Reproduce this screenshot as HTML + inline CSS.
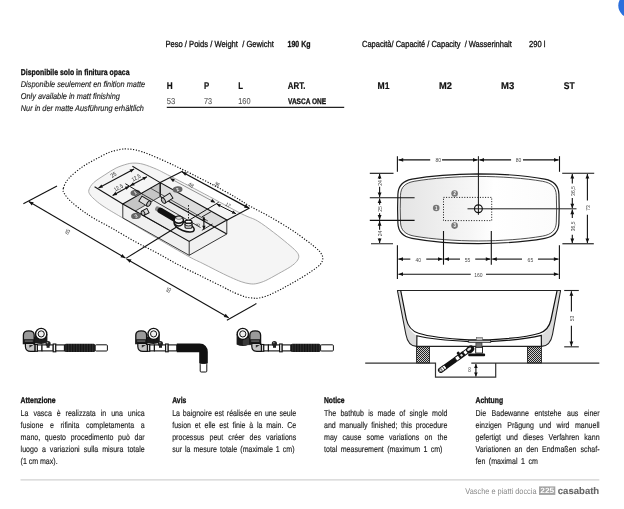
<!DOCTYPE html>
<html><head><meta charset="utf-8"><title>Vasca One</title>
<style>
html,body{margin:0;padding:0;background:#fff;}
body{width:624px;height:509px;position:relative;overflow:hidden;font-family:'Liberation Sans',sans-serif;}
#pg{position:absolute;left:0;top:0;width:624px;height:509px;will-change:transform;}
svg{position:absolute;left:0;top:0;}
</style></head><body>
<div id="pg">
<svg width="624" height="509" viewBox="0 0 624 509" font-family="'Liberation Sans',sans-serif">
<defs>
<linearGradient id="tubg" x1="0" x2="1" y1="0" y2="0"><stop offset="0" stop-color="#e4e4e4"/><stop offset="0.45" stop-color="#f6f6f6"/><stop offset="0.6" stop-color="#ffffff"/><stop offset="1" stop-color="#fbfbfb"/></linearGradient>
<pattern id="hatch" width="2" height="2" patternUnits="userSpaceOnUse"><rect width="2" height="2" fill="#cdcdcd"/><rect width="1" height="1" fill="#222"/><rect x="1" y="1" width="1" height="1" fill="#222"/></pattern>
<pattern id="corr" width="1.6" height="8" patternUnits="userSpaceOnUse"><rect width="1.6" height="8" fill="#111"/><rect x="1.1" width="0.5" height="8" fill="#444"/></pattern>
</defs>
<circle cx="630.5" cy="5.6" r="12.2" fill="#2b6fdc"/>
<line x1="166.80" y1="107.40" x2="344.20" y2="107.40" stroke="#222" stroke-width="1.3" />
<line x1="20.50" y1="479.80" x2="599.30" y2="479.80" stroke="#d2d2d2" stroke-width="1.2" />
<rect x="539" y="486.4" width="16.3" height="8.5" fill="#a3a3a3"/>
<path d="M478.40,173.80 C455.40,173.90 430.40,175.70 412.00,179.10 C402.80,180.90 398.20,185.20 397.90,194.20 L397.60,208.70 L397.90,223.20 C398.20,232.20 402.80,236.50 412.00,238.30 C430.40,241.70 455.40,243.50 478.40,243.60 C501.40,243.50 526.40,241.70 544.80,238.30 C554.00,236.50 558.60,232.20 558.90,223.20 L559.20,208.70 L558.90,194.20 C558.60,185.20 554.00,180.90 544.80,179.10 C526.40,175.70 501.40,173.90 478.40,173.80 Z" fill="#fff" stroke="#1a1a1a" stroke-width="1.2"/>
<path d="M478.40,176.42 C456.14,176.51 431.94,178.17 414.12,181.32 C405.22,182.98 400.77,186.96 400.48,195.29 L400.19,208.70 L400.48,222.11 C400.77,230.44 405.22,234.41 414.12,236.08 C431.94,239.22 456.14,240.89 478.40,240.98 C500.66,240.89 524.86,239.22 542.68,236.08 C551.58,234.41 556.03,230.44 556.32,222.11 L556.61,208.70 L556.32,195.29 C556.03,186.96 551.58,182.98 542.68,181.32 C524.86,178.17 500.66,176.51 478.40,176.42 Z" fill="url(#tubg)" stroke="#222" stroke-width="0.8"/>
<rect x="443.5" y="197.4" width="48.2" height="23.2" fill="none" stroke="#111" stroke-width="1" stroke-dasharray="1 1.6"/>
<line x1="478.40" y1="156.20" x2="478.40" y2="214.80" stroke="#111" stroke-width="1" />
<line x1="467.50" y1="208.80" x2="576.50" y2="208.80" stroke="#222" stroke-width="1" />
<circle cx="478.4" cy="208.7" r="3.9" fill="none" stroke="#111" stroke-width="1.2"/>
<ellipse cx="436.20" cy="208.00" rx="3.3" ry="3.3" fill="#787878" transform="rotate(0 436.20 208.00)"/><text transform="translate(436.20,208.20) scale(0.9,1)" font-size="4.8" fill="#fff" text-anchor="middle" dominant-baseline="central" font-weight="700">1</text>
<ellipse cx="454.60" cy="193.50" rx="3.3" ry="3.3" fill="#787878" transform="rotate(0 454.60 193.50)"/><text transform="translate(454.60,193.70) scale(0.9,1)" font-size="4.8" fill="#fff" text-anchor="middle" dominant-baseline="central" font-weight="700">2</text>
<ellipse cx="454.60" cy="225.60" rx="3.3" ry="3.3" fill="#787878" transform="rotate(0 454.60 225.60)"/><text transform="translate(454.60,225.80) scale(0.9,1)" font-size="4.8" fill="#fff" text-anchor="middle" dominant-baseline="central" font-weight="700">3</text>
<line x1="397.40" y1="156.20" x2="397.40" y2="171.80" stroke="#111" stroke-width="1.1" />
<line x1="559.50" y1="156.20" x2="559.50" y2="171.80" stroke="#111" stroke-width="1.1" />
<line x1="398.60" y1="159.90" x2="430.20" y2="159.90" stroke="#111" stroke-width="1.1" /><line x1="442.05" y1="159.90" x2="477.60" y2="159.90" stroke="#111" stroke-width="1.1" /><polygon points="398.60,159.90 403.20,158.00 403.20,161.80" fill="#111"/><polygon points="477.60,159.90 473.00,161.80 473.00,158.00" fill="#111"/>
<line x1="479.40" y1="159.90" x2="511.08" y2="159.90" stroke="#111" stroke-width="1.1" /><line x1="522.96" y1="159.90" x2="558.60" y2="159.90" stroke="#111" stroke-width="1.1" /><polygon points="479.40,159.90 484.00,158.00 484.00,161.80" fill="#111"/><polygon points="558.60,159.90 554.00,161.80 554.00,158.00" fill="#111"/>
<text transform="translate(438.20,160.30) scale(0.85,1)" font-size="5.9" fill="#4a4a4a" text-anchor="middle" dominant-baseline="central" font-weight="400">80</text>
<text transform="translate(518.60,160.30) scale(0.85,1)" font-size="5.9" fill="#4a4a4a" text-anchor="middle" dominant-baseline="central" font-weight="400">80</text>
<line x1="369.80" y1="173.30" x2="393.50" y2="173.30" stroke="#111" stroke-width="1.1" />
<line x1="369.80" y1="197.70" x2="414.60" y2="197.70" stroke="#111" stroke-width="1.1" />
<line x1="369.80" y1="220.40" x2="414.60" y2="220.40" stroke="#111" stroke-width="1.1" />
<line x1="371.00" y1="243.70" x2="393.00" y2="243.70" stroke="#444" stroke-width="1.2" />
<line x1="379.60" y1="174.00" x2="379.60" y2="179.06" stroke="#111" stroke-width="1.1" /><line x1="379.60" y1="186.65" x2="379.60" y2="197.00" stroke="#111" stroke-width="1.1" /><polygon points="379.60,174.00 381.50,178.60 377.70,178.60" fill="#111"/><polygon points="379.60,197.00 377.70,192.40 381.50,192.40" fill="#111"/>
<line x1="379.60" y1="198.40" x2="379.60" y2="204.79" stroke="#111" stroke-width="1.1" /><line x1="379.60" y1="213.31" x2="379.60" y2="219.70" stroke="#111" stroke-width="1.1" /><polygon points="379.60,198.40 381.50,203.00 377.70,203.00" fill="#111"/><polygon points="379.60,219.70 377.70,215.10 381.50,215.10" fill="#111"/>
<line x1="379.60" y1="221.10" x2="379.60" y2="229.86" stroke="#111" stroke-width="1.1" /><line x1="379.60" y1="238.62" x2="379.60" y2="243.00" stroke="#111" stroke-width="1.1" /><polygon points="379.60,221.10 381.50,225.70 377.70,225.70" fill="#111"/><polygon points="379.60,243.00 377.70,238.40 381.50,238.40" fill="#111"/>
<text transform="translate(379.80,183.00) rotate(-90) scale(0.85,1)" font-size="5.9" fill="#4a4a4a" text-anchor="middle" dominant-baseline="central" font-weight="400">24</text>
<text transform="translate(379.80,209.00) rotate(-90) scale(0.85,1)" font-size="5.9" fill="#4a4a4a" text-anchor="middle" dominant-baseline="central" font-weight="400">25</text>
<text transform="translate(379.80,233.50) rotate(-90) scale(0.85,1)" font-size="5.9" fill="#4a4a4a" text-anchor="middle" dominant-baseline="central" font-weight="400">24</text>
<line x1="397.40" y1="245.20" x2="397.40" y2="279.00" stroke="#111" stroke-width="1.1" />
<line x1="443.50" y1="231.00" x2="443.50" y2="264.70" stroke="#111" stroke-width="1.1" />
<line x1="491.30" y1="231.00" x2="491.30" y2="264.70" stroke="#111" stroke-width="1.1" />
<line x1="559.40" y1="245.20" x2="559.40" y2="279.00" stroke="#111" stroke-width="1.1" />
<line x1="398.40" y1="259.10" x2="410.33" y2="259.10" stroke="#111" stroke-width="1.1" /><line x1="426.25" y1="259.10" x2="442.60" y2="259.10" stroke="#111" stroke-width="1.1" /><polygon points="398.40,259.10 403.00,257.20 403.00,261.00" fill="#111"/><polygon points="442.60,259.10 438.00,261.00 438.00,257.20" fill="#111"/>
<line x1="444.40" y1="259.10" x2="460.04" y2="259.10" stroke="#111" stroke-width="1.1" /><line x1="475.22" y1="259.10" x2="490.40" y2="259.10" stroke="#111" stroke-width="1.1" /><polygon points="444.40,259.10 449.00,257.20 449.00,261.00" fill="#111"/><polygon points="490.40,259.10 485.80,261.00 485.80,257.20" fill="#111"/>
<line x1="492.20" y1="259.10" x2="522.03" y2="259.10" stroke="#111" stroke-width="1.1" /><line x1="537.95" y1="259.10" x2="558.50" y2="259.10" stroke="#111" stroke-width="1.1" /><polygon points="492.20,259.10 496.80,257.20 496.80,261.00" fill="#111"/><polygon points="558.50,259.10 553.90,261.00 553.90,257.20" fill="#111"/>
<text transform="translate(418.30,259.50) scale(0.85,1)" font-size="5.9" fill="#4a4a4a" text-anchor="middle" dominant-baseline="central" font-weight="400">40</text>
<text transform="translate(467.50,259.50) scale(0.85,1)" font-size="5.9" fill="#4a4a4a" text-anchor="middle" dominant-baseline="central" font-weight="400">55</text>
<text transform="translate(530.40,259.50) scale(0.85,1)" font-size="5.9" fill="#4a4a4a" text-anchor="middle" dominant-baseline="central" font-weight="400">65</text>
<line x1="398.40" y1="274.20" x2="470.77" y2="274.20" stroke="#111" stroke-width="1.1" /><line x1="485.97" y1="274.20" x2="558.50" y2="274.20" stroke="#111" stroke-width="1.1" /><polygon points="398.40,274.20 403.00,272.30 403.00,276.10" fill="#111"/><polygon points="558.50,274.20 553.90,276.10 553.90,272.30" fill="#111"/>
<text transform="translate(478.40,274.60) scale(0.85,1)" font-size="5.9" fill="#4a4a4a" text-anchor="middle" dominant-baseline="central" font-weight="400">160</text>
<line x1="562.20" y1="173.30" x2="594.20" y2="173.30" stroke="#111" stroke-width="1.1" />
<line x1="562.40" y1="243.70" x2="593.80" y2="243.70" stroke="#444" stroke-width="1.4" />
<line x1="572.30" y1="174.00" x2="572.30" y2="183.60" stroke="#111" stroke-width="1.1" /><line x1="572.30" y1="198.01" x2="572.30" y2="208.30" stroke="#111" stroke-width="1.1" /><polygon points="572.30,174.00 574.20,178.60 570.40,178.60" fill="#111"/><polygon points="572.30,208.30 570.40,203.70 574.20,203.70" fill="#111"/>
<line x1="572.30" y1="209.60" x2="572.30" y2="217.95" stroke="#111" stroke-width="1.1" /><line x1="572.30" y1="234.65" x2="572.30" y2="243.00" stroke="#111" stroke-width="1.1" /><polygon points="572.30,209.60 574.20,214.20 570.40,214.20" fill="#111"/><polygon points="572.30,243.00 570.40,238.40 574.20,238.40" fill="#111"/>
<text transform="translate(572.50,191.00) rotate(-90) scale(0.85,1)" font-size="5.9" fill="#4a4a4a" text-anchor="middle" dominant-baseline="central" font-weight="400">36,5</text>
<text transform="translate(572.50,226.40) rotate(-90) scale(0.85,1)" font-size="5.9" fill="#4a4a4a" text-anchor="middle" dominant-baseline="central" font-weight="400">36,5</text>
<line x1="587.40" y1="174.00" x2="587.40" y2="200.56" stroke="#111" stroke-width="1.1" /><line x1="587.40" y1="214.71" x2="587.40" y2="243.00" stroke="#111" stroke-width="1.1" /><polygon points="587.40,174.00 589.30,178.60 585.50,178.60" fill="#111"/><polygon points="587.40,243.00 585.50,238.40 589.30,238.40" fill="#111"/>
<text transform="translate(587.60,208.00) rotate(-90) scale(0.85,1)" font-size="5.9" fill="#4a4a4a" text-anchor="middle" dominant-baseline="central" font-weight="400">73</text>
<path d="M397.4,290.5 L405.9,334.5 C407.2,341.5 410.2,346.3 416.6,346.4 L416.8,335.6 C411,332.5 408,327 406.3,319 L400.7,290.5 Z" fill="#dcdcdc" stroke="none"/>
<path d="M560.6,290.5 L552.5,334.5 C551.2,341.5 548.2,346.3 541.5,346.4 L541.4,335 C546.5,332 549.3,327 550.9,320 L557.1,290.5 Z" fill="#dcdcdc" stroke="none"/>
<line x1="397.00" y1="290.50" x2="561.00" y2="290.50" stroke="#222" stroke-width="1.1" />
<path d="M397.4,290.5 L405.9,334.5 C407.2,341.5 410.2,346.3 416.6,346.4 L541.5,346.4 C548.2,346.3 551.2,341.5 552.5,334.5 L560.6,290.5" fill="none" stroke="#222" stroke-width="1.1"/>
<path d="M400.7,290.5 L406.3,319 C408,327 412,331.2 418.5,333.2 C426,335.6 440,338.2 469,339.9 L489,339.9 C518,338.2 532,335.6 539.5,333.2 C546,331.2 549.3,327 550.9,320 L557.1,290.5" fill="none" stroke="#111" stroke-width="1.2"/>
<path d="M416.8,346.4 L416.9,335.8 C426,338 440,340.2 469,341.6 M541.4,346.4 L541.3,335.4 C532,337.8 518,340.2 489,341.6" fill="none" stroke="#111" stroke-width="1.15"/>
<rect x="416.6" y="346.8" width="12.9" height="16.2" fill="url(#hatch)" stroke="#111" stroke-width="0.8"/>
<rect x="527.5" y="346.8" width="13.9" height="16.2" fill="url(#hatch)" stroke="#111" stroke-width="0.8"/>
<path d="M365.2,363.2 L435.5,363.2 L435.5,377.2 L495.7,377.2 L495.7,363.2 L599.3,363.2 M471.3,363.2 L495.7,363.2" fill="none" stroke="#333" stroke-width="1.2"/>
<line x1="475.90" y1="363.90" x2="475.90" y2="376.60" stroke="#111" stroke-width="1.1" /><polygon points="475.90,363.90 477.70,368.10 474.10,368.10" fill="#111"/><polygon points="475.90,376.60 474.10,372.40 477.70,372.40" fill="#111"/>
<text transform="translate(469.40,369.80) scale(0.85,1)" font-size="6.3" fill="#666" text-anchor="middle" dominant-baseline="central" font-weight="400">8</text>
<line x1="564.20" y1="290.50" x2="578.80" y2="290.50" stroke="#222" stroke-width="1.1" />
<line x1="564.20" y1="346.80" x2="578.80" y2="346.80" stroke="#444" stroke-width="1.3" />
<line x1="571.40" y1="291.20" x2="571.40" y2="311.55" stroke="#111" stroke-width="1.1" /><line x1="571.40" y1="325.85" x2="571.40" y2="346.20" stroke="#111" stroke-width="1.1" /><polygon points="571.40,291.20 573.30,295.80 569.50,295.80" fill="#111"/><polygon points="571.40,346.20 569.50,341.60 573.30,341.60" fill="#111"/>
<text transform="translate(571.60,318.40) rotate(-90) scale(0.85,1)" font-size="5.9" fill="#4a4a4a" text-anchor="middle" dominant-baseline="central" font-weight="400">53</text>
<rect x="468.7" y="340.4" width="22.0" height="2.0" fill="#ccc" stroke="#222" stroke-width="0.7"/>
<rect x="476.3" y="337.6" width="6.2" height="2.8" fill="#bbb" stroke="#444" stroke-width="0.5"/>
<rect x="475.9" y="342.8" width="6.1" height="4.6" fill="#777" stroke="#222" stroke-width="0.6"/>
<rect x="475.7" y="347.3" width="6.8" height="5.8" fill="#fff" stroke="#111" stroke-width="0.9"/>
<rect x="468.2" y="353.6" width="16.9" height="2.6" rx="1" fill="#111"/>
<g transform="translate(440.8,370.1) rotate(-35.61)"><rect x="-2.3" y="-2.3" width="9" height="4.6" rx="2.2" fill="#fff" stroke="#111" stroke-width="1.0"/><circle cx="0" cy="0" r="1.3" fill="#fff" stroke="#111" stroke-width="0.7"/><line x1="3.4" y1="-2.3" x2="3.4" y2="2.3" stroke="#111" stroke-width="0.8"/><rect x="5.6" y="-2.6" width="12.8" height="5.2" rx="0.8" fill="#111"/><rect x="18.4" y="-2.2" width="4.4" height="4.4" fill="#fff" stroke="#111" stroke-width="1.0"/><rect x="22.8" y="-2.7" width="5.6" height="5.4" fill="#111"/><rect x="24.4" y="-1.2" width="2.2" height="2.4" fill="#ddd"/><circle cx="24.0" cy="-3.6" r="1.5" fill="#111"/><rect x="28.4" y="-2.1" width="4.2" height="4.2" fill="#fff" stroke="#111" stroke-width="1.0"/><ellipse cx="36.01" cy="0.2" rx="4.3" ry="3.5" fill="#111"/><ellipse cx="35.21" cy="-0.5" rx="2.3" ry="1.3" fill="#e4e4e4"/></g>
<g transform="translate(0,0)"><path d="M35.0,334 L35.0,342.2 Q41.2,345.59999999999997 47.400000000000006,342.2 L47.400000000000006,334 Z" fill="#1c1c1c"/><rect x="32.8" y="337" width="8.4" height="6.399999999999977" fill="#1c1c1c"/><path d="M23.4,335 C23.4,329.6 34.2,329.6 34.2,335 L34.2,343.6 L23.4,343.6 Z" fill="#9a9a9a" stroke="#111" stroke-width="1.3"/><rect x="23.6" y="339.2" width="10.4" height="4.6" fill="#1c1c1c"/><rect x="24.8" y="340.6" width="8.0" height="0.9" fill="#8a8a8a"/><path d="M25.400000000000002,343.4 L25.400000000000002,346.4 Q25.6,351.3 30.6,351.3 L35.0,351.3 L35.0,344.4 L34.0,344.4 L34.0,343.4 Z" fill="#c6c6c6" stroke="#111" stroke-width="1.2"/><path d="M29.400000000000002,345.0 L33.4,345.0 L29.400000000000002,347.8 Z" fill="#333"/><circle cx="41.2" cy="333.9" r="5.6" fill="#fff" stroke="#111" stroke-width="1.3"/><circle cx="41.2" cy="333.9" r="3.1" fill="#f0f0f0" stroke="#111" stroke-width="1.0"/><rect x="35.2" y="344.5" width="2.2" height="6.8" fill="#fff" stroke="#111" stroke-width="1.1"/><rect x="37.4" y="344.9" width="4.6" height="6.0" fill="#fff" stroke="#111" stroke-width="1.1"/><rect x="42.0" y="344.9" width="11.2" height="6.0" fill="#fff" stroke="#111" stroke-width="1.1"/><rect x="46.6" y="344.6" width="3.0" height="3.2" fill="#222"/><circle cx="48.0" cy="343.6" r="2.6" fill="#222"/><circle cx="47.5" cy="342.8" r="0.8" fill="#9a9a9a"/><rect x="53.2" y="344.0" width="2.6" height="7.8" fill="#f4f4f4" stroke="#111" stroke-width="1.1"/><rect x="55.8" y="344.9" width="8.6" height="6.0" fill="#fff" stroke="#111" stroke-width="1.1"/></g>
<rect x="64.4" y="343.7" width="30.8" height="8.4" rx="1.6" fill="url(#corr)"/>
<rect x="95.2" y="344.8" width="12.2" height="6.2" rx="1" fill="#fff" stroke="#111" stroke-width="1.0"/>
<g transform="translate(112.4,0)"><path d="M35.0,334 L35.0,342.2 Q41.2,345.59999999999997 47.400000000000006,342.2 L47.400000000000006,334 Z" fill="#1c1c1c"/><rect x="32.8" y="337" width="8.4" height="6.399999999999977" fill="#1c1c1c"/><path d="M23.4,335 C23.4,329.6 34.2,329.6 34.2,335 L34.2,343.6 L23.4,343.6 Z" fill="#9a9a9a" stroke="#111" stroke-width="1.3"/><rect x="23.6" y="339.2" width="10.4" height="4.6" fill="#1c1c1c"/><rect x="24.8" y="340.6" width="8.0" height="0.9" fill="#8a8a8a"/><path d="M25.400000000000002,343.4 L25.400000000000002,346.4 Q25.6,351.3 30.6,351.3 L35.0,351.3 L35.0,344.4 L34.0,344.4 L34.0,343.4 Z" fill="#c6c6c6" stroke="#111" stroke-width="1.2"/><path d="M29.400000000000002,345.0 L33.4,345.0 L29.400000000000002,347.8 Z" fill="#333"/><circle cx="41.2" cy="333.9" r="5.6" fill="#fff" stroke="#111" stroke-width="1.3"/><circle cx="41.2" cy="333.9" r="3.1" fill="#f0f0f0" stroke="#111" stroke-width="1.0"/><rect x="35.2" y="344.5" width="2.2" height="6.8" fill="#fff" stroke="#111" stroke-width="1.1"/><rect x="37.4" y="344.9" width="4.6" height="6.0" fill="#fff" stroke="#111" stroke-width="1.1"/><rect x="42.0" y="344.9" width="11.2" height="6.0" fill="#fff" stroke="#111" stroke-width="1.1"/><rect x="46.6" y="344.6" width="3.0" height="3.2" fill="#222"/><circle cx="48.0" cy="343.6" r="2.6" fill="#222"/><circle cx="47.5" cy="342.8" r="0.8" fill="#9a9a9a"/><rect x="53.2" y="344.0" width="2.6" height="7.8" fill="#f4f4f4" stroke="#111" stroke-width="1.1"/><rect x="55.8" y="344.9" width="8.6" height="6.0" fill="#fff" stroke="#111" stroke-width="1.1"/></g>
<path d="M176.8,347.9 L199.6,347.9 Q203.5,347.9 203.5,352 L203.5,363.6" fill="none" stroke="#111" stroke-width="8.6" stroke-linecap="butt"/>
<rect x="200.2" y="363.4" width="6.6" height="8.6" rx="1" fill="#fff" stroke="#111" stroke-width="1.0"/>
<g transform="translate(226.4,0)"><path d="M10.2,334 L10.2,344.40000000000003 Q16.4,347.8 22.599999999999998,344.40000000000003 L22.599999999999998,334 Z" fill="#1c1c1c"/><rect x="16.4" y="338" width="8.4" height="7.100000000000023" fill="#3a3a3a"/><path d="M23.4,335 C23.4,329.6 34.2,329.6 34.2,335 L34.2,343.6 L23.4,343.6 Z" fill="#9a9a9a" stroke="#111" stroke-width="1.3"/><rect x="23.6" y="339.2" width="10.4" height="4.6" fill="#1c1c1c"/><rect x="24.8" y="340.6" width="8.0" height="0.9" fill="#8a8a8a"/><path d="M25.400000000000002,343.4 L25.400000000000002,346.4 Q25.6,351.3 30.6,351.3 L35.0,351.3 L35.0,344.4 L34.0,344.4 L34.0,343.4 Z" fill="#c6c6c6" stroke="#111" stroke-width="1.2"/><path d="M29.400000000000002,345.0 L33.4,345.0 L29.400000000000002,347.8 Z" fill="#333"/><circle cx="16.4" cy="333.9" r="5.6" fill="#fff" stroke="#111" stroke-width="1.3"/><circle cx="16.4" cy="333.9" r="3.1" fill="#f0f0f0" stroke="#111" stroke-width="1.0"/><rect x="35.2" y="344.5" width="2.2" height="6.8" fill="#fff" stroke="#111" stroke-width="1.1"/><rect x="37.4" y="344.9" width="4.6" height="6.0" fill="#fff" stroke="#111" stroke-width="1.1"/><rect x="42.0" y="344.9" width="11.2" height="6.0" fill="#fff" stroke="#111" stroke-width="1.1"/><rect x="46.6" y="344.6" width="3.0" height="3.2" fill="#222"/><circle cx="48.0" cy="343.6" r="2.6" fill="#222"/><circle cx="47.5" cy="342.8" r="0.8" fill="#9a9a9a"/><rect x="53.2" y="344.0" width="2.6" height="7.8" fill="#f4f4f4" stroke="#111" stroke-width="1.1"/><rect x="55.8" y="344.9" width="8.6" height="6.0" fill="#fff" stroke="#111" stroke-width="1.1"/></g>
<rect x="290.8" y="343.7" width="29.8" height="8.4" rx="1.6" fill="url(#corr)"/>
<rect x="320.6" y="344.8" width="12.8" height="6.2" rx="1" fill="#fff" stroke="#111" stroke-width="1.0"/>
<path d="M88.9,190.0 C89.5,187.9 91.0,185.1 93.7,182.6 C96.4,180.1 101.2,177.2 104.9,174.8 C108.6,172.4 112.4,169.8 116.1,168.0 C119.8,166.2 124.3,164.8 127.3,164.0 C130.3,163.2 131.4,163.1 134.0,163.1 C136.6,163.1 139.2,163.2 143.0,164.2 C146.8,165.2 152.4,167.4 156.5,169.2 C160.6,171.0 159.7,170.7 167.7,174.8 C175.7,178.9 192.3,187.5 204.6,194.0 C216.9,200.5 232.8,209.3 241.6,213.8 C250.4,218.3 252.0,217.7 257.3,220.8 C262.6,223.9 268.5,228.5 273.5,232.3 C278.5,236.1 283.8,240.4 287.5,243.5 C291.2,246.6 293.9,248.8 295.8,250.9 C297.7,253.0 298.7,254.4 298.8,256.2 C298.9,257.9 298.1,259.6 296.7,261.4 C295.3,263.1 293.6,264.6 290.5,266.7 C287.4,268.8 282.3,271.5 278.2,273.8 C274.1,276.1 269.3,278.9 265.8,280.5 C262.3,282.1 259.6,282.9 257.0,283.5 C254.4,284.1 252.6,284.1 250.0,283.8 C247.4,283.5 244.4,282.8 241.2,281.7 C238.0,280.6 234.9,279.2 230.6,277.3 C226.3,275.4 220.3,272.4 215.6,270.0 C210.9,267.6 206.7,265.4 202.2,263.2 C197.7,260.9 196.5,260.8 188.7,256.5 C180.9,252.2 166.4,243.7 155.2,237.2 C144.0,230.7 130.1,222.4 121.7,217.4 C113.3,212.4 109.2,210.1 104.9,207.3 C100.6,204.5 98.3,202.7 95.9,200.6 C93.5,198.5 91.5,196.8 90.3,195.0 C89.1,193.2 88.3,192.1 88.9,190.0 Z" fill="#f5f5f5" stroke="#a0a0a0" stroke-width="0.9"/>
<path d="M63.4,188.2 C64.2,185.6 65.8,181.6 69.0,178.1 C72.2,174.6 77.9,170.1 82.4,166.9 C86.9,163.7 91.4,161.5 95.9,159.1 C100.4,156.7 105.3,153.9 109.4,152.3 C113.5,150.7 117.6,150.0 120.6,149.4 C123.6,148.8 124.7,148.9 127.3,149.0 C129.9,149.1 132.6,149.2 136.3,150.1 C140.0,151.0 144.5,152.5 149.7,154.6 C154.9,156.7 161.7,159.7 167.7,162.4 C173.7,165.1 178.1,167.3 185.6,171.0 C193.1,174.7 204.2,180.3 212.4,184.6 C220.6,188.9 228.7,193.3 234.9,196.9 C241.1,200.5 243.9,202.7 249.5,205.9 C255.1,209.1 261.6,212.1 268.5,216.0 C275.4,219.9 284.6,225.4 291.0,229.5 C297.4,233.6 302.5,237.6 306.7,240.7 C310.9,243.8 313.7,246.0 316.0,248.0 C318.3,250.0 319.4,250.9 320.5,252.6 C321.6,254.2 322.8,256.0 322.8,257.9 C322.8,259.8 322.4,261.9 320.5,264.1 C318.6,266.3 315.5,268.5 311.7,271.1 C307.9,273.8 302.3,277.2 297.6,280.0 C292.9,282.8 288.2,285.4 283.5,287.9 C278.8,290.4 273.5,293.2 269.4,294.9 C265.3,296.6 261.4,297.6 258.8,298.1 C256.2,298.6 255.8,298.3 253.5,298.1 C251.2,297.9 248.2,297.8 244.7,296.7 C241.2,295.6 235.7,293.3 232.3,291.8 C229.0,290.3 229.6,290.3 224.6,287.8 C219.6,285.3 209.7,280.4 202.2,276.7 C194.7,273.0 187.2,269.4 179.7,265.5 C172.2,261.6 164.8,257.1 157.3,253.1 C149.8,249.1 142.4,245.6 134.9,241.5 C127.4,237.4 119.3,232.4 112.4,228.5 C105.5,224.6 98.7,221.2 93.7,218.2 C88.7,215.2 86.2,213.4 82.4,210.7 C78.7,207.9 74.2,204.5 71.2,201.7 C68.2,198.9 65.8,196.1 64.5,193.8 C63.2,191.6 62.6,190.8 63.4,188.2 Z" fill="none" stroke="#111" stroke-width="1.15" stroke-dasharray="1.2 1.6"/>
<polygon points="122.8,204.0 160.2,182.6 226.8,220.1 226.8,234.0 189.2,255.3 122.8,217.9" fill="#f0f0f0" stroke="none" stroke-width="1" />
<polygon points="160.2,196.5 214.1,227.1 189.2,241.4 135.2,211.1" fill="#ebebeb" stroke="none" stroke-width="1" />
<polygon points="122.8,204.0 160.2,182.6 160.2,196.5 135.2,211.1" fill="#c6c6c6" stroke="none" stroke-width="1" />
<polygon points="160.2,182.6 226.8,220.1 214.1,227.1 160.2,196.5" fill="#dcdcdc" stroke="none" stroke-width="1" />
<line x1="160.20" y1="182.60" x2="160.20" y2="196.50" stroke="#222" stroke-width="1.6" />
<line x1="160.20" y1="196.50" x2="135.20" y2="211.10" stroke="#222" stroke-width="0.8" />
<line x1="160.20" y1="196.50" x2="226.80" y2="234.00" stroke="#111" stroke-width="1.1" />
<line x1="143.30" y1="194.60" x2="200.50" y2="227.50" stroke="#222" stroke-width="0.9" />
<line x1="135.20" y1="211.10" x2="168.00" y2="229.60" stroke="#333" stroke-width="0.8" />
<line x1="150.50" y1="188.20" x2="207.90" y2="221.00" stroke="#333" stroke-width="0.8" />
<polygon points="122.8,204.0 160.2,182.6 226.8,220.1 189.2,241.4" fill="none" stroke="#111" stroke-width="1.2"/>
<polyline points="122.8,204.0 122.8,217.9 189.2,255.3 226.8,234.0 226.8,220.1" fill="none" stroke="#222" stroke-width="0.9"/>
<line x1="189.20" y1="241.40" x2="189.20" y2="255.30" stroke="#222" stroke-width="0.9" />
<line x1="183.50" y1="223.60" x2="206.20" y2="209.80" stroke="#111" stroke-width="1.0" />
<g transform="translate(140.4,198.6) rotate(31.3)"><rect x="0" y="-3.0" width="9.8" height="6.0" fill="#ddd" stroke="#111" stroke-width="0.9"/><ellipse cx="9.8" cy="0" rx="1.7" ry="3.0" fill="#bbb" stroke="#111" stroke-width="0.9"/></g>
<g transform="translate(171.4,195.6) rotate(148.0)"><rect x="0" y="-3.0" width="9.4" height="6.0" fill="#ddd" stroke="#111" stroke-width="0.9"/><ellipse cx="9.4" cy="0" rx="1.7" ry="3.0" fill="#bbb" stroke="#111" stroke-width="0.9"/></g>
<g transform="translate(148.0,210.6) rotate(152.5)"><rect x="0" y="-2.4" width="5.6" height="4.8" fill="#ddd" stroke="#111" stroke-width="0.9"/><ellipse cx="5.6" cy="0" rx="1.7" ry="2.4" fill="#bbb" stroke="#111" stroke-width="0.9"/></g>
<ellipse cx="135.40" cy="192.80" rx="4.9" ry="3.1" fill="#666" transform="rotate(-6 135.40 192.80)"/><text transform="translate(135.40,192.90) rotate(-30) scale(1.0,1)" font-size="4.6" fill="#f4f4f4" text-anchor="middle" dominant-baseline="central" font-weight="700">1</text>
<ellipse cx="177.60" cy="189.40" rx="4.9" ry="3.1" fill="#666" transform="rotate(-6 177.60 189.40)"/><text transform="translate(177.60,189.50) rotate(-30) scale(1.0,1)" font-size="4.6" fill="#f4f4f4" text-anchor="middle" dominant-baseline="central" font-weight="700">2</text>
<ellipse cx="136.00" cy="215.90" rx="4.9" ry="3.1" fill="#666" transform="rotate(-6 136.00 215.90)"/><text transform="translate(136.00,216.00) rotate(-30) scale(1.0,1)" font-size="4.6" fill="#f4f4f4" text-anchor="middle" dominant-baseline="central" font-weight="700">3</text>
<line x1="157.6" y1="208.9" x2="161" y2="210.9" stroke="#888" stroke-width="5.0" stroke-linecap="round"/>
<line x1="160.4" y1="210.5" x2="174.4" y2="218.8" stroke="#111" stroke-width="5.8" stroke-linecap="round"/>
<ellipse cx="184.2" cy="226.4" rx="10.6" ry="4.4" transform="rotate(21 184.2 226.4)" fill="#f4f4f4" stroke="#111" stroke-width="1.4"/>
<ellipse cx="178.8" cy="221.0" rx="4.7" ry="5.0" fill="#f2f2f2" stroke="#111" stroke-width="1.6"/>
<path d="M174.4,220.6 Q178.8,224.4 183.2,220.6 L183.2,222.2 Q178.8,226 174.4,222.2 Z" fill="#111"/>
<ellipse cx="178.9" cy="217.9" rx="3.0" ry="1.5" fill="#ddd" stroke="#444" stroke-width="0.6"/>
<rect x="185.0" y="221.6" width="7.0" height="6.6" rx="1.2" fill="#e8e8e8" stroke="#111" stroke-width="1.1"/>
<ellipse cx="188.5" cy="221.7" rx="3.5" ry="1.6" fill="#fff" stroke="#111" stroke-width="1.1"/>
<ellipse cx="188.5" cy="224.6" rx="3.5" ry="1.4" fill="none" stroke="#111" stroke-width="0.9"/>
<line x1="188.50" y1="205.00" x2="188.50" y2="219.60" stroke="#111" stroke-width="0.9" stroke-dasharray="1.6 1.4"/>
<line x1="203.90" y1="216.80" x2="203.90" y2="229.60" stroke="#111" stroke-width="1.1" /><polygon points="203.90,216.80 205.60,220.60 202.20,220.60" fill="#111"/><polygon points="203.90,229.60 202.20,225.80 205.60,225.80" fill="#111"/>
<line x1="201.90" y1="216.90" x2="210.90" y2="211.80" stroke="#111" stroke-width="0.9" />
<line x1="201.90" y1="230.30" x2="212.50" y2="224.00" stroke="#111" stroke-width="0.9" />
<text transform="translate(198.40,224.60) rotate(-90) scale(0.85,1)" font-size="4.8" fill="#444" text-anchor="middle" dominant-baseline="central" font-weight="400">8</text>
<line x1="23.35" y1="203.80" x2="57.00" y2="186.10" stroke="#111" stroke-width="1.1" />
<line x1="226.90" y1="320.30" x2="256.40" y2="303.60" stroke="#111" stroke-width="1.1" />
<line x1="28.75" y1="201.50" x2="125.40" y2="258.00" stroke="#111" stroke-width="1.1" /><polygon points="28.75,201.50 33.68,202.18 31.76,205.46" fill="#111"/><polygon points="125.40,258.00 120.47,257.32 122.39,254.04" fill="#111"/>
<line x1="126.60" y1="258.90" x2="228.70" y2="317.70" stroke="#111" stroke-width="1.1" /><polygon points="126.60,258.90 131.53,259.55 129.64,262.84" fill="#111"/><polygon points="228.70,317.70 223.77,317.05 225.66,313.76" fill="#111"/>
<line x1="125.90" y1="258.40" x2="176.20" y2="227.20" stroke="#111" stroke-width="1.1" />
<text transform="translate(67.40,231.60) rotate(-60) scale(0.85,1)" font-size="5.6" fill="#444" text-anchor="middle" dominant-baseline="central" font-weight="400">85</text>
<text transform="translate(168.40,290.00) rotate(-60) scale(0.85,1)" font-size="5.6" fill="#444" text-anchor="middle" dominant-baseline="central" font-weight="400">85</text>
<line x1="94.60" y1="186.70" x2="122.80" y2="204.00" stroke="#111" stroke-width="1.1" />
<line x1="132.40" y1="166.20" x2="160.20" y2="182.60" stroke="#111" stroke-width="1.1" />
<line x1="125.40" y1="183.70" x2="143.30" y2="194.60" stroke="#111" stroke-width="1.0" />
<line x1="98.50" y1="188.00" x2="134.10" y2="169.00" stroke="#111" stroke-width="1.1" /><polygon points="98.50,188.00 101.36,184.43 103.05,187.61" fill="#111"/><polygon points="134.10,169.00 131.24,172.57 129.55,169.39" fill="#111"/>
<line x1="112.60" y1="195.40" x2="129.40" y2="186.20" stroke="#111" stroke-width="1.1" /><polygon points="112.60,195.40 115.42,191.80 117.15,194.96" fill="#111"/><polygon points="129.40,186.20 126.58,189.80 124.85,186.64" fill="#111"/>
<line x1="130.20" y1="185.80" x2="146.90" y2="176.70" stroke="#111" stroke-width="1.1" /><polygon points="130.20,185.80 133.03,182.21 134.75,185.37" fill="#111"/><polygon points="146.90,176.70 144.07,180.29 142.35,177.13" fill="#111"/>
<text transform="translate(113.30,174.60) rotate(-30) scale(0.85,1)" font-size="6.0" fill="#222" text-anchor="middle" dominant-baseline="central" font-weight="400">25</text>
<text transform="translate(118.30,187.60) rotate(-30) scale(0.85,1)" font-size="5.8" fill="#222" text-anchor="middle" dominant-baseline="central" font-weight="400">12,5</text>
<text transform="translate(136.00,177.60) rotate(-30) scale(0.85,1)" font-size="5.8" fill="#222" text-anchor="middle" dominant-baseline="central" font-weight="400">12,5</text>
<line x1="160.20" y1="182.60" x2="183.00" y2="170.90" stroke="#111" stroke-width="1.1" />
<line x1="206.20" y1="209.80" x2="218.60" y2="202.40" stroke="#111" stroke-width="1.0" />
<line x1="226.30" y1="220.60" x2="249.60" y2="208.10" stroke="#111" stroke-width="1.1" />
<line x1="182.20" y1="172.00" x2="248.80" y2="208.10" stroke="#111" stroke-width="1.3" /><polygon points="182.20,172.00 186.97,172.43 185.16,175.77" fill="#111"/><polygon points="248.80,208.10 244.03,207.67 245.84,204.33" fill="#111"/>
<line x1="170.20" y1="178.40" x2="215.10" y2="202.50" stroke="#777" stroke-width="0.8" /><polygon points="170.20,178.40 174.70,178.89 173.10,181.88" fill="#777"/><polygon points="215.10,202.50 210.60,202.01 212.20,199.02" fill="#777"/>
<polygon points="170.20,178.40 174.70,178.90 173.09,181.89" fill="#111"/>
<polygon points="215.10,202.50 210.60,202.00 212.21,199.01" fill="#111"/>
<line x1="216.70" y1="204.10" x2="235.90" y2="213.70" stroke="#111" stroke-width="1.0" /><polygon points="216.70,204.10 220.81,204.37 219.38,207.23" fill="#111"/><polygon points="235.90,213.70 231.79,213.43 233.22,210.57" fill="#111"/>
<text transform="translate(217.00,184.20) rotate(30) scale(0.85,1)" font-size="5.6" fill="#222" text-anchor="middle" dominant-baseline="central" font-weight="400">36</text>
<text transform="translate(191.00,184.80) rotate(30) scale(0.85,1)" font-size="5.6" fill="#333" text-anchor="middle" dominant-baseline="central" font-weight="400">48</text>
<text transform="translate(228.00,205.00) rotate(30) scale(0.85,1)" font-size="5.2" fill="#333" text-anchor="middle" dominant-baseline="central" font-weight="400">12</text>
<g text-rendering="geometricPrecision">
<text xml:space="preserve" transform="translate(165.40,47) scale(0.8645,1)" font-size="8.8" fill="#111" stroke="#111" stroke-width="0.3">Peso / Poids / Weight  / Gewicht</text>
<text xml:space="preserve" transform="translate(287.60,47) scale(0.7935,1)" font-size="8.8" fill="#111" font-weight="700" stroke="#111" stroke-width="0.3">190 Kg</text>
<text xml:space="preserve" transform="translate(362.00,47) scale(0.8502,1)" font-size="8.8" fill="#111" stroke="#111" stroke-width="0.3">Capacità/ Capacité / Capacity  / Wasserinhalt</text>
<text xml:space="preserve" transform="translate(529.00,47) scale(0.8596,1)" font-size="8.8" fill="#111" stroke="#111" stroke-width="0.3">290 l</text>
<text xml:space="preserve" transform="translate(20.80,75) scale(0.8254,1)" font-size="8.4" fill="#111" font-weight="700" stroke="#111" stroke-width="0.3">Disponibile solo in finitura opaca</text>
<text xml:space="preserve" transform="translate(20.80,87) scale(0.8783,1)" font-size="8.4" fill="#1a1a1a" font-style="italic" stroke="#1a1a1a" stroke-width="0.15">Disponible seulement en finition matte</text>
<text xml:space="preserve" transform="translate(20.80,99) scale(0.8760,1)" font-size="8.4" fill="#1a1a1a" font-style="italic" stroke="#1a1a1a" stroke-width="0.15">Only available in matt finishing</text>
<text xml:space="preserve" transform="translate(20.80,111) scale(0.8746,1)" font-size="8.4" fill="#1a1a1a" font-style="italic" stroke="#1a1a1a" stroke-width="0.15">Nur in der matte Ausführung erhältlich</text>
<text xml:space="preserve" transform="translate(166.80,89) scale(0.8299,1)" font-size="9.85" fill="#111" font-weight="700" stroke="#111" stroke-width="0.2">H</text>
<text xml:space="preserve" transform="translate(204.00,89) scale(0.7905,1)" font-size="9.85" fill="#111" font-weight="700" stroke="#111" stroke-width="0.2">P</text>
<text xml:space="preserve" transform="translate(238.30,89) scale(0.7979,1)" font-size="9.85" fill="#111" font-weight="700" stroke="#111" stroke-width="0.2">L</text>
<text xml:space="preserve" transform="translate(287.80,89) scale(0.8046,1)" font-size="9.85" fill="#111" font-weight="700" stroke="#111" stroke-width="0.2">ART.</text>
<text xml:space="preserve" transform="translate(377.50,89) scale(0.8694,1)" font-size="9.85" fill="#111" font-weight="700" stroke="#111" stroke-width="0.2">M1</text>
<text xml:space="preserve" transform="translate(439.00,89) scale(0.9425,1)" font-size="9.85" fill="#111" font-weight="700" stroke="#111" stroke-width="0.2">M2</text>
<text xml:space="preserve" transform="translate(501.00,89) scale(0.9644,1)" font-size="9.85" fill="#111" font-weight="700" stroke="#111" stroke-width="0.2">M3</text>
<text xml:space="preserve" transform="translate(563.80,89) scale(0.8655,1)" font-size="9.85" fill="#111" font-weight="700" stroke="#111" stroke-width="0.2">ST</text>
<text xml:space="preserve" transform="translate(166.80,104) scale(0.9083,1)" font-size="8.5" fill="#555" stroke="#555" stroke-width="0.1">53</text>
<text xml:space="preserve" transform="translate(204.00,104) scale(0.8554,1)" font-size="8.5" fill="#555" stroke="#555" stroke-width="0.1">73</text>
<text xml:space="preserve" transform="translate(238.30,104) scale(0.8599,1)" font-size="8.5" fill="#555" stroke="#555" stroke-width="0.1">160</text>
<text xml:space="preserve" transform="translate(288.00,104) scale(0.8185,1)" font-size="8.0" fill="#111" font-weight="700" stroke="#111" stroke-width="0.3">VASCA ONE</text>
<text xml:space="preserve" transform="translate(20.60,403) scale(0.8055,1)" font-size="8.5" fill="#111" font-weight="700" stroke="#111" stroke-width="0.3">Attenzione</text>
<text xml:space="preserve" transform="translate(20.60,416) scale(0.8300,1)" font-size="8.5" fill="#222" word-spacing="3.576" stroke="#222" stroke-width="0.15">La vasca è realizzata in una unica</text>
<text xml:space="preserve" transform="translate(20.60,428) scale(0.8300,1)" font-size="8.5" fill="#222" word-spacing="5.602" stroke="#222" stroke-width="0.15">fusione e rifinita completamenta a</text>
<text xml:space="preserve" transform="translate(20.60,440) scale(0.8300,1)" font-size="8.5" fill="#222" word-spacing="3.239" stroke="#222" stroke-width="0.15">mano, questo procedimento può dar</text>
<text xml:space="preserve" transform="translate(20.60,452) scale(0.8300,1)" font-size="8.5" fill="#222" word-spacing="2.497" stroke="#222" stroke-width="0.15">luogo a variazioni sulla misura totale</text>
<text xml:space="preserve" transform="translate(20.60,464) scale(0.8300,1)" font-size="8.5" fill="#222" word-spacing="-0.148" stroke="#222" stroke-width="0.15">(1 cm max).</text>
<text xml:space="preserve" transform="translate(172.20,403) scale(0.7993,1)" font-size="8.5" fill="#111" font-weight="700" stroke="#111" stroke-width="0.3">Avis</text>
<text xml:space="preserve" transform="translate(172.20,416) scale(0.8300,1)" font-size="8.5" fill="#222" word-spacing="0.974" stroke="#222" stroke-width="0.15">La baignoire est réalisée en une seule</text>
<text xml:space="preserve" transform="translate(172.20,428) scale(0.8300,1)" font-size="8.5" fill="#222" word-spacing="2.211" stroke="#222" stroke-width="0.15">fusion et elle est finie à la main. Ce</text>
<text xml:space="preserve" transform="translate(172.20,440) scale(0.8300,1)" font-size="8.5" fill="#222" word-spacing="3.833" stroke="#222" stroke-width="0.15">processus peut créer des variations</text>
<text xml:space="preserve" transform="translate(172.20,452) scale(0.8300,1)" font-size="8.5" fill="#222" word-spacing="1.254" stroke="#222" stroke-width="0.15">sur la mesure totale (maximale 1 cm)</text>
<text xml:space="preserve" transform="translate(324.00,403) scale(0.7928,1)" font-size="8.5" fill="#111" font-weight="700" stroke="#111" stroke-width="0.3">Notice</text>
<text xml:space="preserve" transform="translate(324.00,416) scale(0.8300,1)" font-size="8.5" fill="#222" word-spacing="2.727" stroke="#222" stroke-width="0.15">The bathtub is made of single mold</text>
<text xml:space="preserve" transform="translate(324.00,428) scale(0.8300,1)" font-size="8.5" fill="#222" word-spacing="1.966" stroke="#222" stroke-width="0.15">and manually finished; this procedure</text>
<text xml:space="preserve" transform="translate(324.00,440) scale(0.8300,1)" font-size="8.5" fill="#222" word-spacing="3.938" stroke="#222" stroke-width="0.15">may cause some variations on the</text>
<text xml:space="preserve" transform="translate(324.00,452) scale(0.8300,1)" font-size="8.5" fill="#222" word-spacing="1.651" stroke="#222" stroke-width="0.15">total measurement (maximum 1 cm)</text>
<text xml:space="preserve" transform="translate(475.50,403) scale(0.8007,1)" font-size="8.5" fill="#111" font-weight="700" stroke="#111" stroke-width="0.3">Achtung</text>
<text xml:space="preserve" transform="translate(475.50,416) scale(0.8300,1)" font-size="8.5" fill="#222" word-spacing="4.297" stroke="#222" stroke-width="0.15">Die Badewanne entstehe aus einer</text>
<text xml:space="preserve" transform="translate(475.50,428) scale(0.8300,1)" font-size="8.5" fill="#222" word-spacing="4.184" stroke="#222" stroke-width="0.15">einzigen Prägung und wird manuell</text>
<text xml:space="preserve" transform="translate(475.50,440) scale(0.8300,1)" font-size="8.5" fill="#222" word-spacing="3.829" stroke="#222" stroke-width="0.15">gefertigt und dieses Verfahren kann</text>
<text xml:space="preserve" transform="translate(475.50,452) scale(0.8300,1)" font-size="8.5" fill="#222" word-spacing="2.333" stroke="#222" stroke-width="0.15">Variationen an den Endmaßen schaf-</text>
<text xml:space="preserve" transform="translate(475.50,464) scale(0.8300,1)" font-size="8.5" fill="#222" word-spacing="1.914" stroke="#222" stroke-width="0.15">fen (maximal 1 cm</text>
<text xml:space="preserve" transform="translate(465.30,494) scale(0.8888,1)" font-size="8.3" fill="#8a8a8a">Vasche e piatti doccia</text>
<text xml:space="preserve" transform="translate(557.80,494) scale(1.0052,1)" font-size="9.5" fill="#666" font-weight="700" stroke="#666" stroke-width="0.1">casabath</text>
<text xml:space="preserve" transform="translate(540.30,493) scale(1.1106,1)" font-size="7.5" fill="#fff" font-weight="700">225</text>
</g>
</svg>
</div>
</body></html>
